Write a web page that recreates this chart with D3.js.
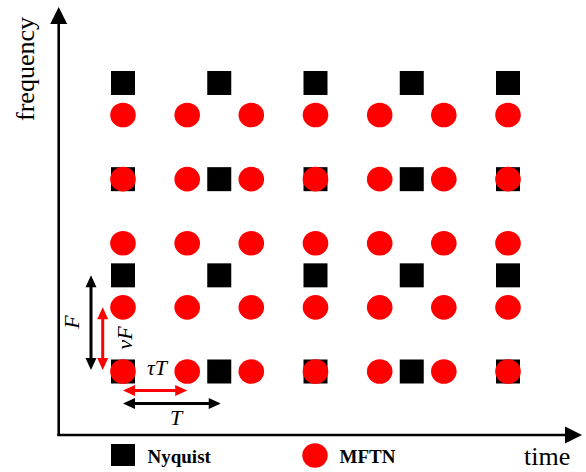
<!DOCTYPE html>
<html>
<head>
<meta charset="utf-8">
<script src="https://cdn.jsdelivr.net/npm/d3@7"></script>
<style>
  html, body { margin: 0; padding: 0; background: #fff; }
  svg { display: block; }
</style>
</head>
<body>
<svg id="chart" width="586" height="472"></svg>
<script>
// ---- data ----
const nyquistTime = [0, 1, 2, 3, 4];            // multiples of T
const nyquistFreq = [0, 1, 2, 3];               // multiples of F
const mftnTime = [0, 0.667, 1.333, 2, 2.667, 3.333, 4];   // multiples of T (tau = 2/3)
const mftnFreq = [0, 0.667, 1.333, 2, 2.667];             // multiples of F (nu = 2/3)
const tauValue = 0.667;
const nuValue = 0.667;
const axisLabels = ["time", "frequency"];
const legendLabels = ["Nyquist", "MFTN"];
const annotationLabels = ["F", "νF", "τT", "T"];

// ---- layout ----
const svg = d3.select("#chart");
const x = d3.scaleLinear().domain([0, 4]).range([123, 508]);
const y = d3.scaleLinear().domain([0, 3]).range([371.5, 83]);

const serif = "'Liberation Serif', 'Times New Roman', serif";
const ax0 = 58.7, ay0 = 435, axEnd = 582, ayEnd = 7;

function arrowHead(g, tipX, tipY, dirX, dirY, len, wid, color) {
  const px = -dirY, py = dirX;
  const bx = tipX - dirX * len, by = tipY - dirY * len;
  g.append("path")
    .attr("d", `M${tipX},${tipY}L${bx + px * wid / 2},${by + py * wid / 2}L${bx - px * wid / 2},${by - py * wid / 2}Z`)
    .attr("fill", color);
}

// axes
const axes = svg.append("g");
axes.append("line").attr("x1", ax0).attr("y1", ay0 + 1).attr("x2", ax0).attr("y2", ayEnd + 14)
  .attr("stroke", "#000").attr("stroke-width", 2.6);
arrowHead(axes, ax0, ayEnd, 0, -1, 17, 17, "#000");
axes.append("line").attr("x1", ax0 - 1.3).attr("y1", ay0).attr("x2", axEnd - 14).attr("y2", ay0)
  .attr("stroke", "#000").attr("stroke-width", 2.6);
arrowHead(axes, axEnd, ay0, 1, 0, 17, 17, "#000");

svg.append("text").text(axisLabels[0])
  .attr("x", 524).attr("y", 465)
  .attr("font-family", serif).attr("font-size", 26).attr("fill", "#000");
svg.append("text").text(axisLabels[1])
  .attr("transform", "translate(34,69) rotate(-90)")
  .attr("text-anchor", "middle")
  .attr("font-family", serif).attr("font-size", 26).attr("fill", "#000");

// Nyquist squares
const sq = 24;
const nyq = [];
nyquistFreq.forEach(f => nyquistTime.forEach(t => nyq.push({t, f})));
svg.append("g").selectAll("rect").data(nyq).join("rect")
  .attr("x", d => x(d.t) - sq / 2)
  .attr("y", d => y(d.f) - sq / 2)
  .attr("width", sq).attr("height", sq)
  .attr("fill", "#000");

// MFTN circles
const mf = [];
mftnFreq.forEach(f => mftnTime.forEach(t => mf.push({t, f})));
svg.append("g").selectAll("ellipse").data(mf).join("ellipse")
  .attr("cx", d => x(d.t))
  .attr("cy", d => y(d.f))
  .attr("rx", 12.8).attr("ry", 12.3)
  .attr("fill", "#ff0000");

// double arrows
function doubleArrow(x1, y1, x2, y2, color) {
  const g = svg.append("g");
  const dx = x2 - x1, dy = y2 - y1, L = Math.hypot(dx, dy);
  const ux = dx / L, uy = dy / L;
  const hl = 12, hw = 11;
  g.append("line")
    .attr("x1", x1 + ux * (hl - 2)).attr("y1", y1 + uy * (hl - 2))
    .attr("x2", x2 - ux * (hl - 2)).attr("y2", y2 - uy * (hl - 2))
    .attr("stroke", color).attr("stroke-width", 3);
  arrowHead(g, x1, y1, -ux, -uy, hl, hw, color);
  arrowHead(g, x2, y2, ux, uy, hl, hw, color);
}
// frequency spacing F (black) and nuF (red)
doubleArrow(91, y(1), 91, y(0) - 1.5, "#000");
doubleArrow(102.7, y(nuValue), 102.7, y(0) - 1.5, "#ff0000");
// time spacing tauT (red) and T (black)
doubleArrow(x(0), 390.5, x(tauValue), 390.5, "#ff0000");
doubleArrow(x(0), 403.5, x(1) + 1.5, 403.5, "#000");

const lab = svg.append("g").attr("font-family", serif).attr("font-style", "italic")
  .attr("font-size", 22).attr("fill", "#000");
lab.append("text").text(annotationLabels[0])
  .attr("transform", "translate(79,322) rotate(-90)").attr("text-anchor", "middle");
lab.append("text").text(annotationLabels[1])
  .attr("transform", "translate(131.5,338) rotate(-90)").attr("text-anchor", "middle");
lab.append("text").text(annotationLabels[2])
  .attr("x", 157).attr("y", 375).attr("text-anchor", "middle");
lab.append("text").text(annotationLabels[3])
  .attr("x", 176).attr("y", 425).attr("text-anchor", "middle");

// legend
const leg = svg.append("g");
leg.append("rect").attr("x", 111).attr("y", 444).attr("width", 24).attr("height", 22).attr("fill", "#000");
leg.append("text").text(legendLabels[0]).attr("x", 147.5).attr("y", 462.5)
  .attr("font-family", serif).attr("font-weight", "bold").attr("font-size", 19).attr("fill", "#000");
leg.append("ellipse").attr("cx", 315).attr("cy", 455.5).attr("rx", 12.7).attr("ry", 12.2).attr("fill", "#ff0000");
leg.append("text").text(legendLabels[1]).attr("x", 339.5).attr("y", 462.5)
  .attr("font-family", serif).attr("font-weight", "bold").attr("font-size", 19).attr("fill", "#000");
</script>
</body>
</html>
